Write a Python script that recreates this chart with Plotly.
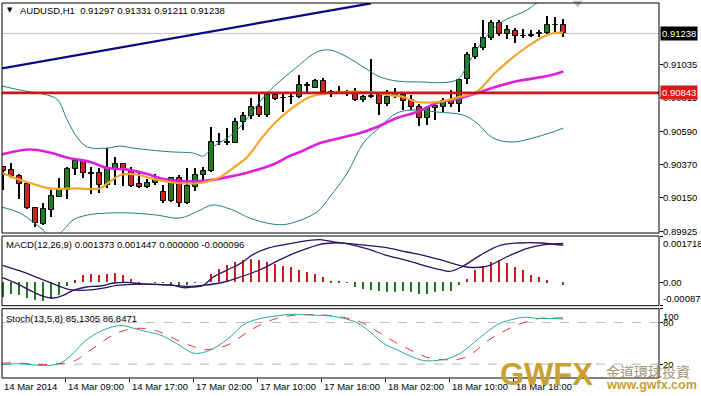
import plotly.graph_objects as go

# ---------------- data (AUDUSD, H1) ----------------
open_ = [0.90349, 0.90331, 0.90293, 0.90238, 0.90077, 0.89972, 0.90065, 0.90154, 0.90198, 0.90338,
         0.90391, 0.90311, 0.90309, 0.90231, 0.90338, 0.90369, 0.90324, 0.90236, 0.90216, 0.90243,
         0.90187, 0.90127, 0.90276, 0.90110, 0.90220, 0.90298, 0.90324, 0.90515, 0.90512, 0.90512,
         0.90652, 0.90692, 0.90751, 0.90696, 0.90829, 0.90807, 0.90818, 0.90814, 0.90889, 0.90878,
         0.90922, 0.90847, 0.90847, 0.90840, 0.90840, 0.90793, 0.90819, 0.90826, 0.90770, 0.90822,
         0.90829, 0.90794, 0.90751, 0.90674, 0.90745, 0.90751, 0.90796, 0.90767, 0.90935, 0.91083,
         0.91143, 0.91206, 0.91305, 0.91234, 0.91256, 0.91221, 0.91218, 0.91232, 0.91243, 0.91291,
         0.91297]
high = [0.90354, 0.90375, 0.90302, 0.90253, 0.90087, 0.90114, 0.90198, 0.90280, 0.90349, 0.90402,
        0.90397, 0.90353, 0.90346, 0.90479, 0.90419, 0.90375, 0.90353, 0.90309, 0.90271, 0.90304,
        0.90231, 0.90282, 0.90298, 0.90342, 0.90342, 0.90349, 0.90615, 0.90579, 0.90608, 0.90674,
        0.90718, 0.90807, 0.90836, 0.90851, 0.90851, 0.90844, 0.90851, 0.90962, 0.90917, 0.90933,
        0.90940, 0.90862, 0.90889, 0.90862, 0.90874, 0.90829, 0.91066, 0.90834, 0.90862, 0.90874,
        0.90840, 0.90829, 0.90767, 0.90758, 0.90774, 0.90807, 0.90862, 0.90933, 0.91117, 0.91173,
        0.91327, 0.91327, 0.91327, 0.91294, 0.91272, 0.91266, 0.91261, 0.91261, 0.91354, 0.91349,
        0.91331]
low = [0.90198, 0.90276, 0.90136, 0.90072, 0.89954, 0.89966, 0.90021, 0.90152, 0.90136, 0.90298,
       0.90280, 0.90170, 0.90176, 0.90213, 0.90231, 0.90227, 0.90220, 0.90209, 0.90209, 0.90231,
       0.90110, 0.90120, 0.90083, 0.90108, 0.90193, 0.90265, 0.90320, 0.90497, 0.90497, 0.90508,
       0.90597, 0.90668, 0.90685, 0.90681, 0.90796, 0.90718, 0.90770, 0.90807, 0.90844, 0.90874,
       0.90844, 0.90814, 0.90836, 0.90825, 0.90789, 0.90783, 0.90809, 0.90695, 0.90756, 0.90811,
       0.90730, 0.90730, 0.90623, 0.90632, 0.90663, 0.90718, 0.90751, 0.90714, 0.90902, 0.91066,
       0.91128, 0.91194, 0.91221, 0.91199, 0.91173, 0.91206, 0.91213, 0.91216, 0.91234, 0.91250,
       0.91211]
close = [0.90326, 0.90291, 0.90236, 0.90077, 0.89977, 0.90072, 0.90160, 0.90198, 0.90338, 0.90391,
         0.90309, 0.90308, 0.90231, 0.90338, 0.90369, 0.90331, 0.90227, 0.90216, 0.90243, 0.90271,
         0.90127, 0.90276, 0.90110, 0.90225, 0.90298, 0.90324, 0.90515, 0.90517, 0.90519, 0.90652,
         0.90692, 0.90751, 0.90696, 0.90829, 0.90803, 0.90809, 0.90816, 0.90896, 0.90896, 0.90922,
         0.90851, 0.90846, 0.90846, 0.90841, 0.90793, 0.90814, 0.90825, 0.90770, 0.90814, 0.90834,
         0.90791, 0.90751, 0.90674, 0.90745, 0.90758, 0.90789, 0.90767, 0.90929, 0.91095, 0.91143,
         0.91206, 0.91305, 0.91234, 0.91261, 0.91223, 0.91219, 0.91228, 0.91239, 0.91294, 0.91292,
         0.91238]

time_labels = ["14 Mar 2014", "14 Mar 09:00", "14 Mar 17:00", "17 Mar 02:00", "17 Mar 10:00",
               "17 Mar 18:00", "18 Mar 02:00", "18 Mar 10:00", "18 Mar 18:00"]
time_label_bars = [0, 8, 16, 24, 32, 40, 48, 56, 64]

price_ticks = [0.91255, 0.91035, 0.90815, 0.90590, 0.90370, 0.90150, 0.89925]
price_tick_text = ["0.91255", "0.91035", "0.90815", "0.90590", "0.90370", "0.90150", "0.89925"]
bid_price = 0.91238
level_price = 0.90843

trend_x = [-0.16, 45.96]
trend_y = [0.91006, 0.91438]

# Bollinger bands (read at sampled bar positions)
bb_up_x = [-0.2, 2.1, 5.5, 6.8, 8.0, 9.2, 10.5, 13.0, 14.6, 16.2, 18.3, 21.2, 23.7, 25.0, 26.2, 28.0,
           29.6, 33.0, 36.7, 39.2, 40.8, 43.0, 45.0, 47.1, 49.2, 51.7, 56.7, 58.0, 60.0, 62.1, 65.5,
           66.7, 70]
bb_up_v = [0.90889, 0.90862, 0.90829, 0.90796, 0.90663, 0.90550, 0.90484, 0.90477, 0.90490, 0.90477,
           0.90464, 0.90451, 0.90444, 0.90424, 0.90484, 0.90544, 0.90617, 0.90842, 0.91015, 0.91115,
           0.91128, 0.91081, 0.91015, 0.90949, 0.90922, 0.90916, 0.90929, 0.91028, 0.91194, 0.91307,
           0.91394, 0.91440, 0.91513]
bb_lo_x = [-0.2, 2.1, 3.7, 5.0, 6.2, 7.5, 8.7, 10.5, 13.0, 16.2, 19.2, 22.1, 24.6, 26.2, 28.7, 30.8,
           33.7, 35.5, 39.2, 40.8, 43.0, 45.0, 47.1, 49.2, 51.7, 54.2, 57.5, 59.2, 61.2, 63.7, 66.2,
           68.3, 70]
bb_lo_v = [0.90085, 0.90045, 0.89986, 0.89932, 0.89879, 0.89932, 0.89999, 0.90032, 0.90045, 0.90045,
           0.90032, 0.90012, 0.90065, 0.90099, 0.90065, 0.90012, 0.89972, 0.89972, 0.90052, 0.90152,
           0.90311, 0.90510, 0.90617, 0.90710, 0.90730, 0.90716, 0.90696, 0.90643, 0.90544, 0.90517,
           0.90544, 0.90577, 0.90610]

ma_fast_x = [-0.2, 2.1, 4.2, 5.8, 9.2, 12.1, 13.3, 14.8, 16.5, 18.3, 21.7, 24.6, 27.1, 28.7, 30.5,
             32.1, 33.7, 35.8, 38.3, 40.0, 42.1, 45.8, 48.0, 50.0, 51.7, 54.6, 57.1, 59.2, 61.2, 63.3,
             65.5, 67.5, 68.7, 70]
ma_fast_v = [0.90313, 0.90265, 0.90231, 0.90209, 0.90209, 0.90209, 0.90253, 0.90301, 0.90302, 0.90278,
             0.90245, 0.90245, 0.90284, 0.90344, 0.90417, 0.90530, 0.90630, 0.90730, 0.90816, 0.90836,
             0.90849, 0.90849, 0.90829, 0.90816, 0.90783, 0.90785, 0.90818, 0.90851, 0.90962, 0.91062,
             0.91150, 0.91216, 0.91239, 0.91243]
ma_slow_x = [-0.2, 3.3, 5.8, 8.3, 10.8, 13.0, 15.5, 18.0, 19.6, 22.1, 25.5, 28.0, 30.8, 33.7, 35.8,
             37.1, 39.6, 42.1, 44.6, 46.7, 49.2, 51.7, 54.2, 56.7, 59.2, 61.7, 64.6, 68.0, 70]
ma_slow_v = [0.90435, 0.90467, 0.90447, 0.90409, 0.90386, 0.90344, 0.90334, 0.90304, 0.90276, 0.90258,
             0.90261, 0.90284, 0.90318, 0.90368, 0.90424, 0.90451, 0.90510, 0.90544, 0.90577, 0.90617,
             0.90676, 0.90716, 0.90776, 0.90803, 0.90842, 0.90886, 0.90925, 0.90955, 0.90985]

# MACD(12,26,9)
macd_hist = [-0.000552, -0.000453, -0.00049, -0.000589, -0.000652, -0.000701, -0.000614, -0.00049, -0.000155,
             0.000068, 0.000254, 0.000292, 0.000254, 0.000292, 0.000341, 0.000254, 0.00013, 0.000006, 0.0,
             -0.00002, -0.00002, -0.00012, -0.000155, -0.00012, -0.00003, 0.0,
             0.000316, 0.000503, 0.000627, 0.000751, 0.000838, 0.000875, 0.000813, 0.000751, 0.000689,
             0.000605, 0.000565, 0.00044, 0.000379, 0.000316, 0.000192,
             0.00004, 0.00001, -0.00001,
             -0.00018, -0.000242, -0.000279, -0.000329, -0.000366, -0.000366, -0.000329, -0.000366,
             -0.000428, -0.000428, -0.000366, -0.000329, -0.000329, -0.000118,
             0.00013, 0.00044, 0.000589, 0.000751, 0.000813, 0.000714, 0.000565, 0.00044, 0.000254,
             0.000192, 0.000068, 0.0, -0.000096]
macd_x = [-0.1, 1.7, 3.75, 5.0, 6.25, 7.5, 8.75, 10.4, 12.1, 13.8, 15.4, 17.1, 19.2, 21.3, 22.5, 23.75,
          25.0, 26.25, 27.9, 29.6, 31.25, 32.9, 34.6, 36.5, 38.3, 39.6, 41.3, 42.9, 45.4, 47.9, 50.4,
          52.5, 54.6, 55.8, 57.3, 59.6, 62.1, 64.6, 67.1, 70]
macd_v = [0.000168, -0.000056, -0.000366, -0.000527, -0.000589, -0.00049, -0.000304, -0.00018, -0.000143,
          -0.000031, -0.000006, -0.000056, -0.000081, -0.000118, -0.000205, -0.00018, -0.000118, 0.000192,
          0.000441, 0.000689, 0.001036, 0.001247, 0.001371, 0.00147, 0.001557, 0.001582, 0.001495,
          0.001433, 0.001247, 0.000999, 0.000813, 0.000627, 0.000465, 0.000403, 0.000565, 0.000999,
          0.001371, 0.001458, 0.001458, 0.001373]
signal_x = [-0.1, 2.1, 4.6, 6.7, 8.3, 10.0, 12.1, 14.2, 16.25, 18.75, 21.3, 23.3, 25.0, 27.1, 29.6,
            32.1, 34.6, 36.25, 37.9, 39.6, 41.25, 42.9, 45.4, 47.9, 50.4, 52.5, 54.6, 56.25, 57.9,
            60.4, 62.9, 65.4, 67.9, 70]
signal_v = [0.000627, 0.000416, 0.00013, -0.000118, -0.000279, -0.000304, -0.000242, -0.000118, -0.000081,
            -0.000081, -0.000118, -0.000155, -0.000118, -0.000031, 0.000192, 0.000465, 0.000838, 0.001061,
            0.001247, 0.001409, 0.001458, 0.001446, 0.001371, 0.001284, 0.001123, 0.000999, 0.000838,
            0.000689, 0.000565, 0.000589, 0.000937, 0.001247, 0.001409, 0.001447]
macd_labels = [(0.001718, "0.001718"), (0.0, "0.00"), (-0.000876, "-0.000876")]

# Stoch(13,5,8)
stk_x = [-0.16, 2.1, 3.75, 5.0, 7.1, 8.75, 10.4, 12.1, 13.75, 15.0, 16.25, 17.9, 19.6, 21.25, 22.9,
         23.75, 25.0, 26.7, 28.3, 30.0, 31.7, 34.2, 35.8, 38.3, 40.8, 42.5, 44.2, 45.8, 47.5, 49.2,
         50.8, 52.5, 54.2, 55.8, 57.3, 58.75, 60.4, 62.1, 63.75, 65.0, 66.7, 68.3, 70]
stk_v = [19.1, 20.6, 19.1, 17.7, 21.5, 35.9, 55.0, 67.0, 74.2, 75.6, 71.8, 67.0, 62.2, 52.6, 40.7,
         35.9, 36.8, 45.5, 58.5, 76.6, 84.7, 89.5, 91.9, 90.9, 89.5, 86.1, 79.9, 67.0, 50.2, 40.7,
         32.0, 25.3, 25.3, 28.7, 37.0, 50.2, 66.0, 79.0, 84.7, 87.6, 86.1, 86.1, 85.13]
std_x = [-0.16, 2.1, 5.0, 7.1, 8.75, 10.4, 12.1, 13.75, 15.4, 17.1, 18.75, 20.4, 22.1, 23.75, 25.0,
         26.7, 28.3, 30.0, 31.7, 34.2, 36.7, 40.0, 42.5, 45.0, 47.1, 49.2, 51.25, 53.3, 55.4, 57.1,
         58.75, 60.4, 62.1, 63.75, 65.4, 67.1, 68.75, 70]
std_v = [21.5, 21.5, 19.1, 20.6, 23.9, 35.9, 50.2, 62.2, 69.4, 71.8, 69.4, 62.2, 52.6, 45.5, 40.7,
         43.1, 49.0, 62.2, 74.2, 86.1, 90.9, 90.9, 87.6, 79.0, 64.6, 50.2, 38.3, 28.7, 26.3, 27.5,
         36.5, 52.6, 64.6, 74.2, 81.4, 86.1, 86.5, 86.85]
stoch_levels = [20, 80]
stoch_labels = [(100, "100"), (80, "80"), (20, "20")]

header_text = "AUDUSD,H1  0.91297 0.91331 0.91211 0.91238"
macd_title = "MACD(12,26,9) 0.001373 0.001447 0.000000 -0.000096"
stoch_title = "Stoch(13,5,8) 85.1305 86.8471"
shift_marker_bar = 71.8

# ---------------- layout geometry (pixels) ----------------
W, H = 701, 396
ML, MR, MT, MB = 2, 42, 3, 18
PH = H - MT - MB            # plot height in px
PW = W - ML - MR


def py(px):  # pixel y -> paper y
    return (H - MB - px) / PH


def pxx(px):  # pixel x -> paper x
    return (px - ML) / PW


MAIN_DOM = [py(233), 1.0]
MACD_DOM = [py(305.7), py(236)]
STO_DOM = [0.0, py(308.7)]
XR = [-0.1625, 81.96]
PR = [0.89913, 0.91440]

FONT = "Liberation Sans, Arial, sans-serif"
FS = 9.5

idx = list(range(len(close)))
fig = go.Figure()

# bid line (behind)
fig.add_shape(type="line", xref="paper", x0=0, x1=1, yref="y", y0=bid_price, y1=bid_price,
              line=dict(color="#c4c4c4", width=1), layer="below")

# wicks
fig.add_trace(go.Bar(x=idx, y=[h - l for h, l in zip(high, low)], base=low, width=0.13,
                     marker=dict(color="#000000", line=dict(width=0)), yaxis="y", xaxis="x"))
# bodies
body_col = ["#1f7c1f" if c > o else ("#d42020" if c < o else "#000000") for o, c in zip(open_, close)]
fig.add_trace(go.Bar(x=idx, y=[max(abs(c - o), 0.000012) for o, c in zip(open_, close)],
                     base=[min(o, c) for o, c in zip(open_, close)], width=0.62,
                     marker=dict(color=body_col, line=dict(color="#000000", width=1)),
                     yaxis="y", xaxis="x"))

# Bollinger
for bx, bv in ((bb_up_x, bb_up_v), (bb_lo_x, bb_lo_v)):
    fig.add_trace(go.Scatter(x=bx, y=bv, mode="lines", line=dict(color="#1f7f7a", width=1, shape="spline"),
                             yaxis="y"))
# MAs
fig.add_trace(go.Scatter(x=ma_slow_x, y=ma_slow_v, mode="lines",
                         line=dict(color="#e01ee0", width=2.6, shape="spline"), yaxis="y"))
fig.add_trace(go.Scatter(x=ma_fast_x, y=ma_fast_v, mode="lines",
                         line=dict(color="#f2a62a", width=2.2, shape="spline"), yaxis="y"))
# trend line
fig.add_trace(go.Scatter(x=trend_x, y=trend_y, mode="lines", line=dict(color="#0a0a80", width=2.2),
                         yaxis="y"))
# level line
fig.add_shape(type="line", xref="paper", x0=0, x1=1, yref="y", y0=level_price, y1=level_price,
              line=dict(color="#c81818", width=2.6), layer="above")
# chart shift marker
fig.add_trace(go.Scatter(x=[shift_marker_bar], y=[PR[1]], mode="markers", cliponaxis=False,
                         marker=dict(symbol="triangle-down", size=9, color="#c0c0c0"), yaxis="y"))

# MACD histogram
hist_col = ["#c41e1e" if v > 0 else "#1e7a1e" for v in macd_hist]
fig.add_trace(go.Bar(x=idx, y=macd_hist, base=0, width=0.14, marker=dict(color=hist_col, line=dict(width=0)),
                     yaxis="y2"))
fig.add_trace(go.Scatter(x=signal_x, y=signal_v, mode="lines",
                         line=dict(color="#2c1462", width=1.3, shape="spline"), yaxis="y2"))
fig.add_trace(go.Scatter(x=macd_x, y=macd_v, mode="lines",
                         line=dict(color="#2c1462", width=1.3, shape="spline"), yaxis="y2"))

# Stoch
for lv in stoch_levels:
    fig.add_shape(type="line", xref="paper", x0=0, x1=1, yref="y3", y0=lv, y1=lv,
                  line=dict(color="#b8b8b8", width=1, dash="dash"), layer="below")
fig.add_trace(go.Scatter(x=std_x, y=std_v, mode="lines",
                         line=dict(color="#e03434", width=1, dash="dash", shape="spline"), yaxis="y3"))
fig.add_trace(go.Scatter(x=stk_x, y=stk_v, mode="lines",
                         line=dict(color="#23aaa4", width=1, shape="spline"), yaxis="y3"))

# panel borders
for dom in (MAIN_DOM, MACD_DOM, STO_DOM):
    fig.add_shape(type="rect", xref="paper", yref="paper", x0=0, x1=1, y0=dom[0], y1=dom[1],
                  line=dict(color="#000000", width=1), fillcolor="rgba(0,0,0,0)", layer="above")

ann = []
# price axis labels
for v, t in zip(price_ticks, price_tick_text):
    ann.append(dict(x=1, xref="paper", y=v, yref="y", text=t, showarrow=False, xanchor="left",
                    yanchor="middle", xshift=2, font=dict(family=FONT, size=FS, color="#000")))
ann.append(dict(x=1, xref="paper", y=bid_price, yref="y", text=f"{bid_price:.5f}", showarrow=False,
                xanchor="left", yanchor="middle", xshift=1, bgcolor="#000000", borderpad=1,
                font=dict(family=FONT, size=FS, color="#ffffff")))
ann.append(dict(x=1, xref="paper", y=level_price, yref="y", text=f"{level_price:.5f}", showarrow=False,
                xanchor="left", yanchor="middle", xshift=1, bgcolor="#dc1a1a", borderpad=1,
                font=dict(family=FONT, size=FS, color="#ffffff")))
for v, t in macd_labels:
    ya = "top" if v == macd_labels[0][0] else ("bottom" if v == macd_labels[-1][0] else "middle")
    ann.append(dict(x=1, xref="paper", y=v, yref="y2", text=t, showarrow=False, xanchor="left",
                    yanchor=ya, xshift=2, font=dict(family=FONT, size=FS, color="#000")))
for v, t in stoch_labels:
    ya = "top" if v == 100 else "middle"
    ann.append(dict(x=1, xref="paper", y=v, yref="y3", text=t, showarrow=False, xanchor="left",
                    yanchor=ya, xshift=2, font=dict(family=FONT, size=FS, color="#000")))
# time labels
for b, t in zip(time_label_bars, time_labels):
    ann.append(dict(x=b, xref="x", y=0, yref="paper", text=t, showarrow=False, xanchor="left",
                    yanchor="top", xshift=-1, yshift=-1, font=dict(family=FONT, size=FS, color="#000")))
# titles
ann.append(dict(x=pxx(10), xref="paper", y=py(10), yref="paper", text="▼", showarrow=False,
                xanchor="center", yanchor="middle", font=dict(family="DejaVu Sans", size=7, color="#000")))
ann.append(dict(x=pxx(18), xref="paper", y=py(11), yref="paper", text=header_text, showarrow=False,
                xanchor="left", yanchor="middle", font=dict(family=FONT, size=FS, color="#000")))
ann.append(dict(x=pxx(4), xref="paper", y=py(244.5), yref="paper", text=macd_title, showarrow=False,
                xanchor="left", yanchor="middle", font=dict(family=FONT, size=FS, color="#000")))
ann.append(dict(x=pxx(4), xref="paper", y=py(318.5), yref="paper", text=stoch_title, showarrow=False,
                xanchor="left", yanchor="middle", font=dict(family=FONT, size=FS, color="#000")))
# watermark
ann.append(dict(x=pxx(498), xref="paper", y=py(374), yref="paper", text="<b>GWFX</b>", showarrow=False,
                xanchor="left", yanchor="middle",
                font=dict(family="Liberation Sans, Arial", size=31, color="#c9a132")))
ann.append(dict(x=pxx(604), xref="paper", y=py(371), yref="paper", text="金道環球投資", showarrow=False,
                xanchor="left", yanchor="middle",
                font=dict(family="Noto Sans CJK TC", size=14, color="#a39676")))
ann.append(dict(x=pxx(604), xref="paper", y=py(385), yref="paper", text="<b>www.gwfx.com</b>",
                showarrow=False, xanchor="left", yanchor="middle",
                font=dict(family="Liberation Sans, Arial", size=12.5, color="#c9a132")))

axis_common = dict(showgrid=False, zeroline=False, showline=False, fixedrange=True)
fig.update_layout(
    width=W, height=H, margin=dict(l=ML, r=MR, t=MT, b=MB, pad=0),
    paper_bgcolor="#ffffff", plot_bgcolor="#ffffff", showlegend=False, barmode="overlay", bargap=0,
    xaxis=dict(range=XR, domain=[0, 1], anchor="y3", ticks="outside", ticklen=3, tickcolor="#000",
               tickvals=[b - 0.25 for b in time_label_bars[1:]], showticklabels=False, **axis_common),
    yaxis=dict(range=PR, domain=MAIN_DOM, side="right", anchor="x", ticks="outside", ticklen=3,
               tickcolor="#000", tickvals=price_ticks, showticklabels=False, **axis_common),
    yaxis2=dict(range=[-0.000876, 0.001718], domain=MACD_DOM, side="right", anchor="x", ticks="outside",
                ticklen=3, tickcolor="#000", tickvals=[v for v, _ in macd_labels], showticklabels=False,
                **axis_common),
    yaxis3=dict(range=[0, 100], domain=STO_DOM, side="right", anchor="x", ticks="outside", ticklen=3,
                tickcolor="#000", tickvals=[v for v, _ in stoch_labels], showticklabels=False, **axis_common),
    annotations=ann,
    hovermode=False,
)

fig.write_html("out.html", config={"displayModeBar": False},
               post_script="document.body.style.margin='0';document.body.style.padding='0';"
                           "document.body.style.overflow='hidden';")
